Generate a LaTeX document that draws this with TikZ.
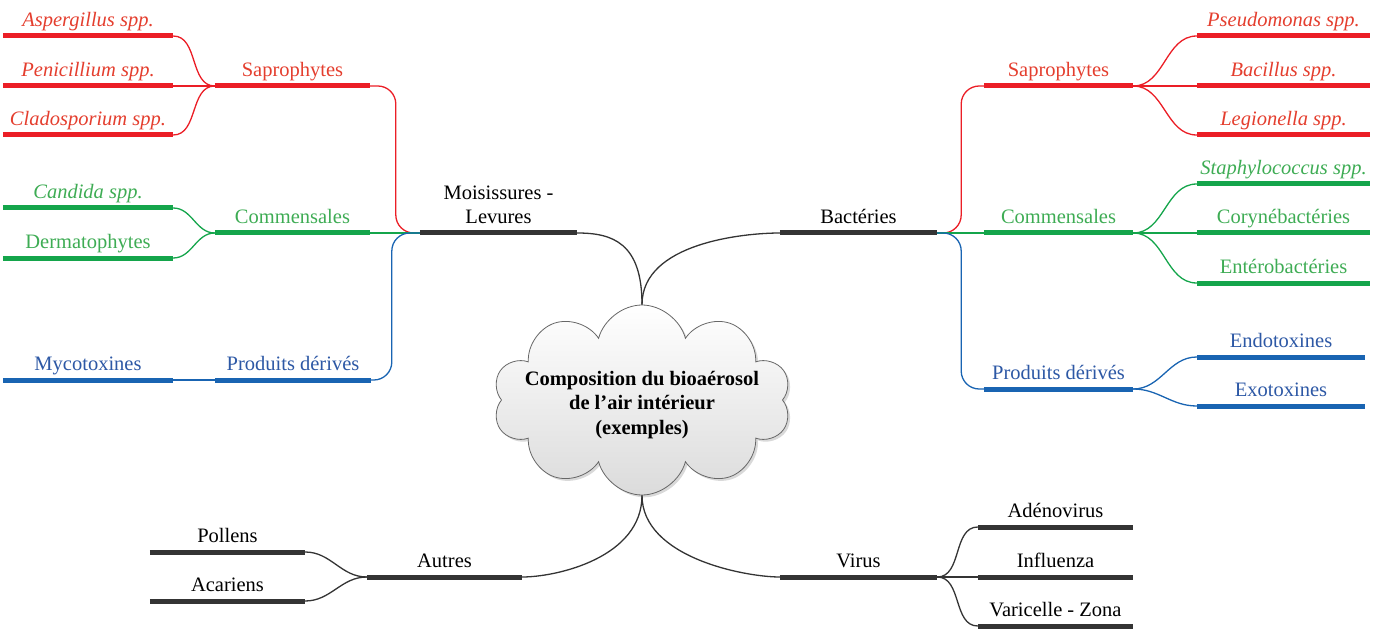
\documentclass[tikz,border=0pt]{standalone}
\usepackage{fontspec}
\setmainfont{Liberation Serif}
\usetikzlibrary{calc,shapes.symbols,shadows}

\definecolor{redL}{RGB}{235,30,38}
\definecolor{redT}{RGB}{228,62,46}
\definecolor{greenL}{RGB}{20,165,75}
\definecolor{greenT}{RGB}{62,172,84}
\definecolor{blueL}{RGB}{25,100,178}
\definecolor{blueT}{RGB}{45,88,165}
\definecolor{darkL}{RGB}{52,52,52}

\tikzset{
  topic/.style={anchor=south, inner xsep=0pt, inner ysep=9pt, text depth=0pt,
    align=center, font=\fontsize{20.5}{24.5}\selectfont},
  under/.style={append after command={(\tikzlastnode.south west)
    edge[draw=#1, line width=5pt] (\tikzlastnode.south east)}},
  rtopic/.style={topic, text=redT, under=redL, minimum width=#1},
  gtopic/.style={topic, text=greenT, under=greenL, minimum width=#1},
  btopic/.style={topic, text=blueT, under=blueL, minimum width=#1},
  ktopic/.style={topic, text=black, under=darkL, minimum width=#1},
  link/.style={draw=#1, line width=1.3pt}
}

\begin{document}
\begin{tikzpicture}[x=1pt, y=-1pt]
    \useasboundingbox (0,0) rectangle (1376,639);
    \node[cloud, cloud puffs=10, aspect=1.6, minimum width=298pt, minimum height=190pt,
        inner sep=0pt, draw=darkL!75, line width=0.8pt, top color=white, bottom color=gray!28,
        drop shadow={opacity=0.3}] (core) at (642,400) {};
    \node[align=center, font=\bfseries\fontsize{20.5}{24.5}\selectfont] (title) at (642,405)
        {Composition du bioaérosol\\de l’air intérieur\\(exemples)};
    \node[ktopic=157pt] (moi) at (498.5,233) {Moisissures -\\Levures};
    \node[ktopic=157pt] (bac) at (858.5,233) {Bactéries};
    \node[ktopic=155pt] (aut) at (444.5,577) {Autres};
    \node[ktopic=157pt] (vir) at (858.5,577) {Virus};
    \node[rtopic=170pt] (asp) at (88,36) {\textit{Aspergillus spp.}};
    \node[rtopic=170pt] (pen) at (88,86) {\textit{Penicillium spp.}};
    \node[rtopic=170pt] (cla) at (88,135) {\textit{Cladosporium spp.}};
    \node[rtopic=155pt] (sapL) at (292.5,86) {Saprophytes};
    \node[gtopic=170pt] (can) at (88,208) {\textit{Candida spp.}};
    \node[gtopic=170pt] (der) at (88,258) {Dermatophytes};
    \node[gtopic=155pt] (comL) at (292.5,233) {Commensales};
    \node[btopic=170pt] (myc) at (88,380) {Mycotoxines};
    \node[btopic=156pt] (prodL) at (293,380) {Produits dérivés};
    \node[rtopic=149pt] (sapR) at (1058.5,86) {Saprophytes};
    \node[rtopic=173pt] (pse) at (1283.5,36) {\textit{Pseudomonas spp.}};
    \node[rtopic=173pt] (bacil) at (1283.5,86) {\textit{Bacillus spp.}};
    \node[rtopic=173pt] (leg) at (1283.5,135) {\textit{Legionella spp.}};
    \node[gtopic=149pt] (comR) at (1058.5,233) {Commensales};
    \node[gtopic=173pt] (sta) at (1283.5,184) {\textit{Staphylococcus spp.}};
    \node[gtopic=173pt] (cor) at (1283.5,233) {Corynébactéries};
    \node[gtopic=173pt] (ent) at (1283.5,283) {Entérobactéries};
    \node[btopic=149pt] (prodR) at (1058.5,389) {Produits dérivés};
    \node[btopic=168pt] (endo) at (1281,357) {Endotoxines};
    \node[btopic=168pt] (exo) at (1281,406) {Exotoxines};
    \node[ktopic=155pt] (pol) at (227.5,552) {Pollens};
    \node[ktopic=155pt] (aca) at (227.5,601) {Acariens};
    \node[ktopic=155pt] (ade) at (1055.5,527) {Adénovirus};
    \node[ktopic=155pt] (inf) at (1055.5,577) {Influenza};
    \node[ktopic=155pt] (var) at (1055.5,626) {Varicelle - Zona};
    \draw[link=darkL] (core.north) .. controls +(0,-62) and +(35,0) .. (moi.south east);
    \draw[link=darkL] (core.north) .. controls +(0,-62) and +(-35,0) .. (bac.south west);
    \draw[link=darkL] (core.south) .. controls +(0,62) and +(35,0) .. (aut.south east);
    \draw[link=darkL] (core.south) .. controls +(0,62) and +(-35,0) .. (vir.south west);
    \draw[link=redL] (asp.south east) to[out=0,in=180] (sapL.south west);
    \draw[link=redL] (pen.south east) -- (sapL.south west);
    \draw[link=redL] (cla.south east) to[out=0,in=180] (sapL.south west);
    \draw[link=greenL] (can.south east) to[out=0,in=180] (comL.south west);
    \draw[link=greenL] (der.south east) to[out=0,in=180] (comL.south west);
    \draw[link=blueL] (myc.south east) -- (prodL.south west);
    \draw[link=redL, rounded corners=18pt] (sapL.south east) -| ($(moi.south west)+(-24,0)$) -- (moi.south west);
    \draw[link=greenL] (comL.south east) -- (moi.south west);
    \draw[link=blueL, rounded corners=18pt] (prodL.south east) -| ($(moi.south west)+(-28,0)$) -- (moi.south west);
    \draw[link=redL, rounded corners=18pt] (bac.south east) -- ++(24,0) |- (sapR.south west);
    \draw[link=greenL] (bac.south east) -- (comR.south west);
    \draw[link=blueL, rounded corners=18pt] (bac.south east) -- ++(24,0) |- (prodR.south west);
    \draw[link=redL] (sapR.south east) to[out=0,in=180] (pse.south west);
    \draw[link=redL] (sapR.south east) -- (bacil.south west);
    \draw[link=redL] (sapR.south east) to[out=0,in=180] (leg.south west);
    \draw[link=greenL] (comR.south east) to[out=0,in=180] (sta.south west);
    \draw[link=greenL] (comR.south east) -- (cor.south west);
    \draw[link=greenL] (comR.south east) to[out=0,in=180] (ent.south west);
    \draw[link=blueL] (prodR.south east) to[out=0,in=180] (endo.south west);
    \draw[link=blueL] (prodR.south east) to[out=0,in=180] (exo.south west);
    \draw[link=darkL] (pol.south east) to[out=0,in=180] (aut.south west);
    \draw[link=darkL] (aca.south east) to[out=0,in=180] (aut.south west);
    \draw[link=darkL] (vir.south east) to[out=0,in=180] (ade.south west);
    \draw[link=darkL] (vir.south east) -- (inf.south west);
    \draw[link=darkL] (vir.south east) to[out=0,in=180] (var.south west);
\end{tikzpicture}
\end{document}
